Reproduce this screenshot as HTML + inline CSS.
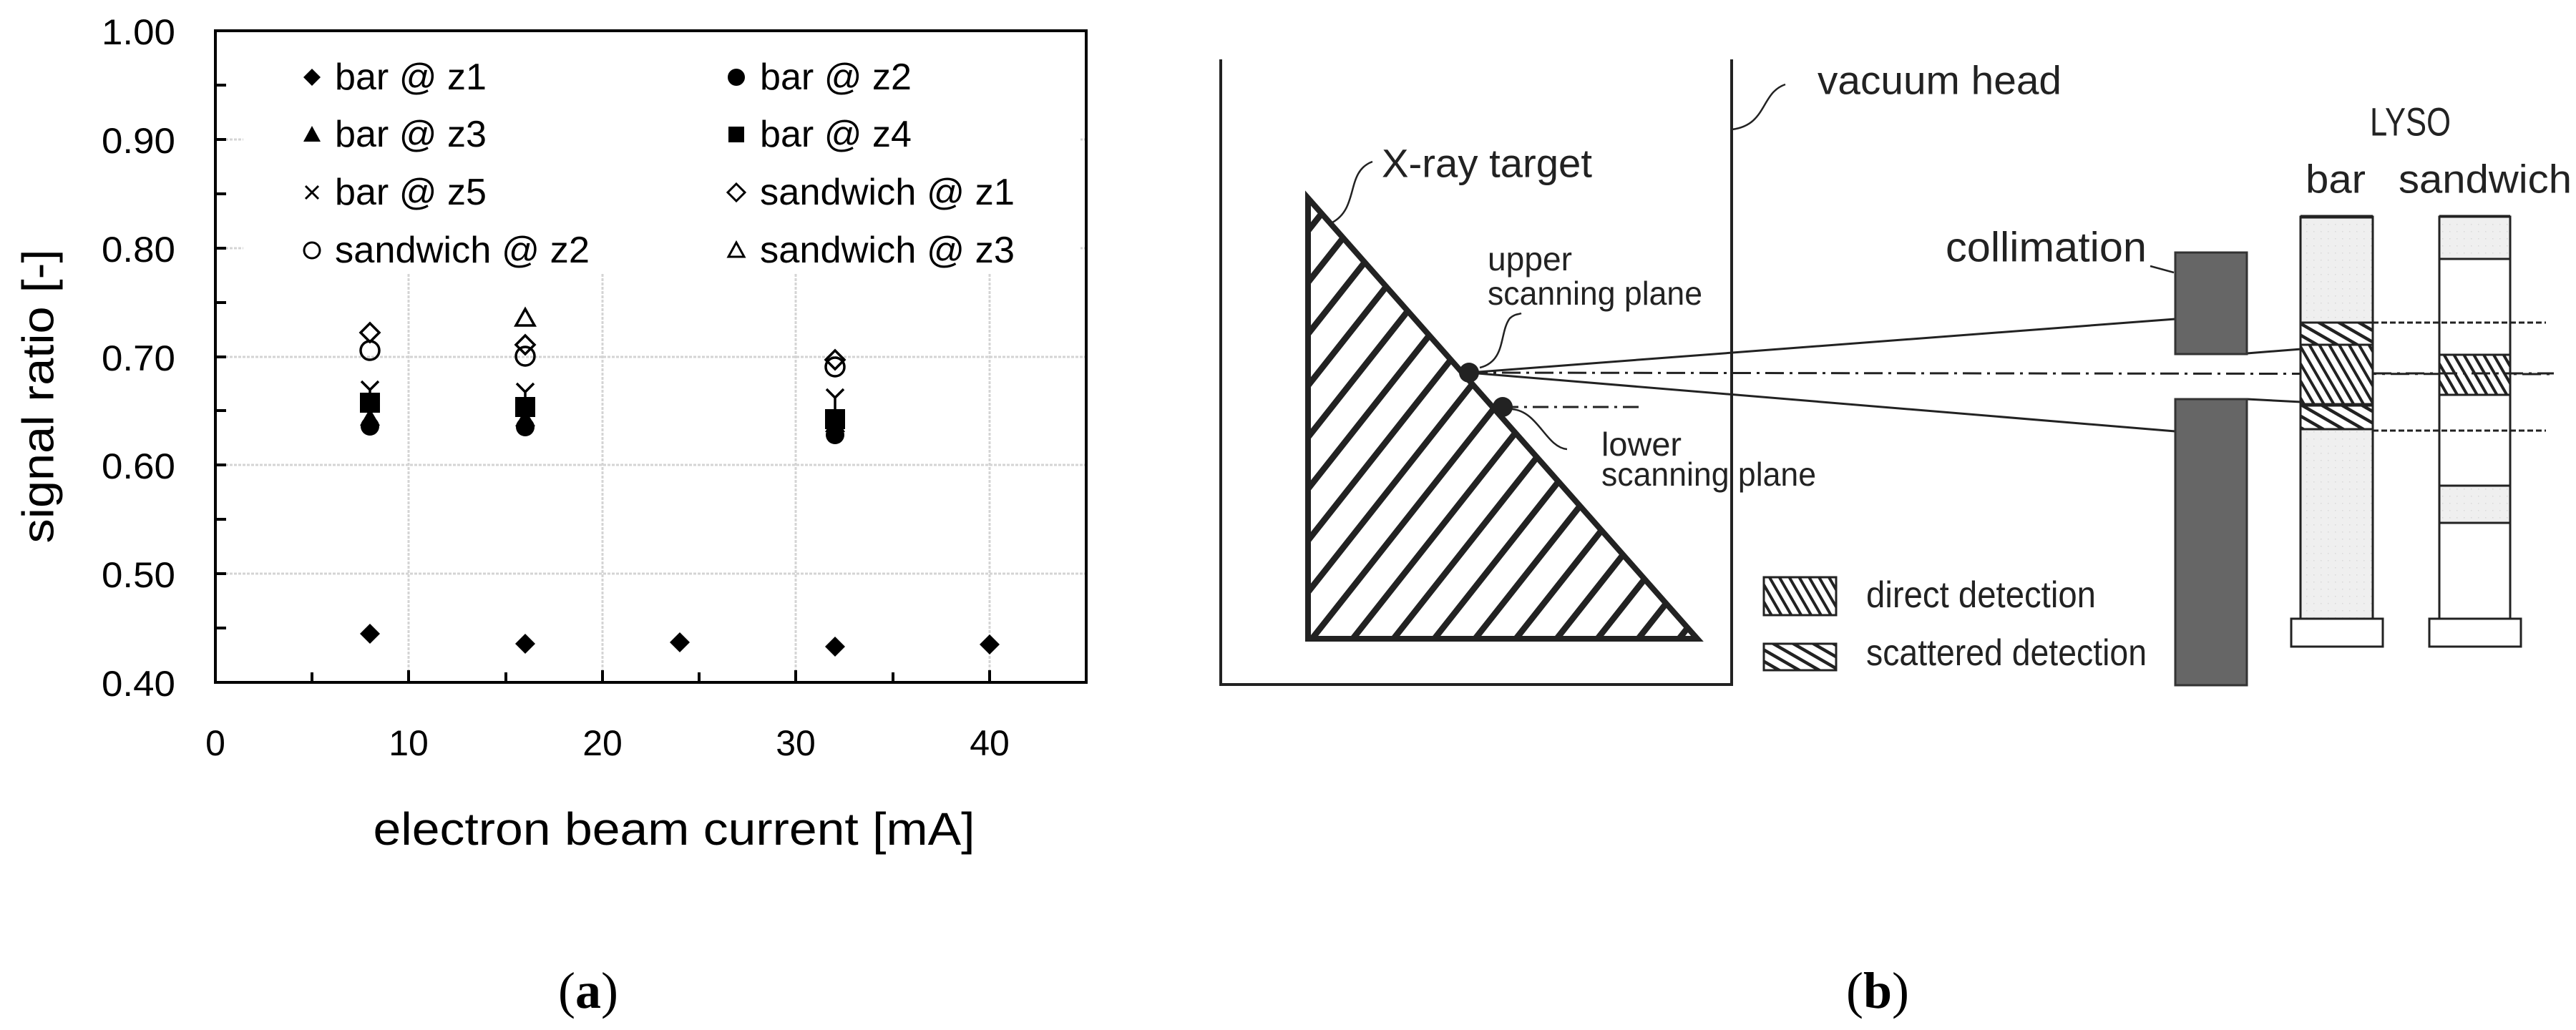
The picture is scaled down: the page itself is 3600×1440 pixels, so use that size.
<!DOCTYPE html>
<html><head><meta charset="utf-8"><style>html,body{margin:0;padding:0;background:#fff}svg{display:block}</style></head>
<body>
<svg width="3600" height="1440" viewBox="0 0 3600 1440" xmlns="http://www.w3.org/2000/svg" font-family="'Liberation Sans', sans-serif">
<defs>
<pattern id="tri" patternUnits="userSpaceOnUse" width="57" height="200" patternTransform="translate(1828,893) skewX(-38.3)">
<rect x="0" y="0" width="11" height="200" fill="#222"/>
</pattern>
<pattern id="scat" patternUnits="userSpaceOnUse" width="14" height="14" patternTransform="rotate(30)">
<rect width="14" height="14" fill="#fff"/><rect x="0" y="0" width="14" height="4.5" fill="#222"/>
</pattern>
<pattern id="dir" patternUnits="userSpaceOnUse" width="12" height="12" patternTransform="rotate(60)">
<rect width="12" height="12" fill="#fff"/><rect x="0" y="0" width="12" height="4" fill="#222"/>
</pattern>
<pattern id="dots" patternUnits="userSpaceOnUse" width="10" height="10">
<rect width="10" height="10" fill="#efefef"/><rect x="3" y="3" width="1.5" height="1.5" fill="#d8d8d8"/>
</pattern>
</defs>

<!-- ============ Chart (a) ============ -->
<g stroke="#d4d4d4" stroke-width="3" stroke-dasharray="4 2">
<line x1="571" y1="383" x2="571" y2="952"/>
<line x1="842" y1="383" x2="842" y2="952"/>
<line x1="1112" y1="383" x2="1112" y2="952"/>
<line x1="1383" y1="383" x2="1383" y2="952"/>
<line x1="303" y1="195" x2="1517" y2="195"/>
<line x1="303" y1="347" x2="1517" y2="347"/>
<line x1="303" y1="499" x2="1517" y2="499"/>
<line x1="303" y1="650" x2="1517" y2="650"/>
<line x1="303" y1="802" x2="1517" y2="802"/>
</g>
<rect x="340" y="48" width="1170" height="334" fill="#fff"/>
<rect x="301" y="43" width="1217" height="911" fill="none" stroke="#000" stroke-width="4"/>
<g stroke="#000" stroke-width="4">
<line x1="301" y1="119" x2="316" y2="119"/><line x1="301" y1="195" x2="316" y2="195"/>
<line x1="301" y1="271" x2="316" y2="271"/><line x1="301" y1="347" x2="316" y2="347"/>
<line x1="301" y1="423" x2="316" y2="423"/><line x1="301" y1="499" x2="316" y2="499"/>
<line x1="301" y1="574" x2="316" y2="574"/><line x1="301" y1="650" x2="316" y2="650"/>
<line x1="301" y1="726" x2="316" y2="726"/><line x1="301" y1="802" x2="316" y2="802"/>
<line x1="301" y1="878" x2="316" y2="878"/>
<line x1="436" y1="954" x2="436" y2="940"/><line x1="571" y1="954" x2="571" y2="937"/>
<line x1="707" y1="954" x2="707" y2="940"/><line x1="842" y1="954" x2="842" y2="937"/>
<line x1="977" y1="954" x2="977" y2="940"/><line x1="1112" y1="954" x2="1112" y2="937"/>
<line x1="1248" y1="954" x2="1248" y2="940"/><line x1="1383" y1="954" x2="1383" y2="937"/>
</g>
<g font-size="50" text-anchor="end" fill="#000" dominant-baseline="central">
<text x="245" y="45" textLength="103" lengthAdjust="spacingAndGlyphs">1.00</text>
<text x="245" y="197" textLength="103" lengthAdjust="spacingAndGlyphs">0.90</text>
<text x="245" y="349" textLength="103" lengthAdjust="spacingAndGlyphs">0.80</text>
<text x="245" y="501" textLength="103" lengthAdjust="spacingAndGlyphs">0.70</text>
<text x="245" y="652" textLength="103" lengthAdjust="spacingAndGlyphs">0.60</text>
<text x="245" y="804" textLength="103" lengthAdjust="spacingAndGlyphs">0.50</text>
<text x="245" y="956" textLength="103" lengthAdjust="spacingAndGlyphs">0.40</text>
</g>
<g font-size="50" text-anchor="middle" fill="#000" dominant-baseline="central">
<text x="301" y="1039">0</text><text x="571" y="1039">10</text><text x="842" y="1039">20</text>
<text x="1112" y="1039">30</text><text x="1383" y="1039">40</text>
</g>
<text x="942" y="1159" font-size="64" text-anchor="middle" dominant-baseline="central" textLength="841" lengthAdjust="spacingAndGlyphs">electron beam current [mA]</text>
<text transform="translate(54,554) rotate(-90)" font-size="62" text-anchor="middle" dominant-baseline="central" textLength="411" lengthAdjust="spacingAndGlyphs">signal ratio [-]</text>

<!-- legend -->
<g font-size="52" dominant-baseline="central">
<text x="468" y="108" textLength="212" lengthAdjust="spacingAndGlyphs">bar @ z1</text>
<text x="468" y="188" textLength="212" lengthAdjust="spacingAndGlyphs">bar @ z3</text>
<text x="468" y="269" textLength="212" lengthAdjust="spacingAndGlyphs">bar @ z5</text>
<text x="468" y="350" textLength="356" lengthAdjust="spacingAndGlyphs">sandwich @ z2</text>
<text x="1062" y="108" textLength="212" lengthAdjust="spacingAndGlyphs">bar @ z2</text>
<text x="1062" y="188" textLength="212" lengthAdjust="spacingAndGlyphs">bar @ z4</text>
<text x="1062" y="269" textLength="356" lengthAdjust="spacingAndGlyphs">sandwich @ z1</text>
<text x="1062" y="350" textLength="356" lengthAdjust="spacingAndGlyphs">sandwich @ z3</text>
</g>
<g fill="#000">
<path d="M436 96 L448 108 L436 120 L424 108Z"/>
<path d="M436 176 L448 198 L424 198Z"/>
<circle cx="1029" cy="108" r="12"/>
<rect x="1018" y="177" width="22" height="22"/>
</g>
<g fill="none" stroke="#000" stroke-width="3">
<path d="M427 260 L445 278 M445 260 L427 278"/>
<circle cx="436" cy="350" r="11"/>
<path d="M1029 257 L1041 269 L1029 281 L1017 269Z"/>
<path d="M1029 339 L1040 359 L1018 359Z"/>
</g>

<!-- data -->
<g fill="#000">
<circle cx="517" cy="596" r="13"/><circle cx="734" cy="597" r="13"/><circle cx="1167" cy="608" r="13"/>
<path d="M517 571 L531 595 L503 595Z"/><path d="M734 572 L748 596 L720 596Z"/><path d="M1167 580 L1181 604 L1153 604Z"/>
<rect x="503" y="549" width="28" height="28"/><rect x="720" y="555" width="28" height="28"/><rect x="1153" y="572" width="28" height="28"/>
<path d="M517 872 L531 886 L517 900 L503 886Z"/>
<path d="M734 886 L748 900 L734 914 L720 900Z"/>
<path d="M950 884 L964 898 L950 912 L936 898Z"/>
<path d="M1167 890 L1181 904 L1167 918 L1153 904Z"/>
<path d="M1383 887 L1397 901 L1383 915 L1369 901Z"/>
</g>
<g fill="none" stroke="#000" stroke-width="3.5">
<path d="M505 533 L517 545 L529 533 M517 545 L517 550"/>
<path d="M722 536 L734 548 L746 536 M734 548 L734 555"/>
<path d="M1155 544 L1167 556 L1179 544 M1167 556 L1167 572"/>
<path d="M517 452 L530 465 L517 478 L504 465Z"/>
<path d="M734 469 L747 482 L734 495 L721 482Z"/>
<path d="M1167 490 L1180 503 L1167 516 L1154 503Z"/>
<circle cx="517" cy="490" r="13"/><circle cx="734" cy="498" r="13"/><circle cx="1167" cy="513" r="13"/>
<path d="M734 432 L747 455 L721 455Z"/>
</g>
<text x="822" y="1385" font-family="'Liberation Serif', serif" font-size="72" text-anchor="middle" dominant-baseline="central">(<tspan font-weight="bold">a</tspan>)</text>

<!-- ============ Diagram (b) ============ -->
<path d="M1706 83 L1706 957 L2420 957 L2420 83" fill="none" stroke="#222" stroke-width="4"/>
<path d="M2420 181 C2470 175 2460 130 2495 118" fill="none" stroke="#222" stroke-width="2.5"/>
<text x="2540" y="112" font-size="56" dominant-baseline="central" textLength="341" lengthAdjust="spacingAndGlyphs" fill="#222">vacuum head</text>
<path d="M1862 311 C1900 290 1880 240 1918 226" fill="none" stroke="#222" stroke-width="2.5"/>
<text x="1931" y="228" font-size="56" dominant-baseline="central" textLength="294" lengthAdjust="spacingAndGlyphs" fill="#222">X-ray target</text>

<polygon points="1828,277 1828,893 2372,893" fill="url(#tri)" stroke="#222" stroke-width="8" stroke-linejoin="miter"/>

<line x1="2053" y1="521" x2="3569" y2="523" stroke="#222" stroke-width="3" stroke-dasharray="26 8 4 8"/>
<line x1="2100" y1="569" x2="2294" y2="569" stroke="#222" stroke-width="3" stroke-dasharray="22 8 4 8"/>
<line x1="2053" y1="521" x2="3040" y2="446" stroke="#222" stroke-width="3"/>
<line x1="2053" y1="521" x2="3040" y2="603" stroke="#222" stroke-width="3"/>
<line x1="3140" y1="494" x2="3216" y2="488" stroke="#222" stroke-width="3"/>
<line x1="3140" y1="558" x2="3216" y2="562" stroke="#222" stroke-width="3"/>
<circle cx="2053" cy="521" r="14" fill="#222"/>
<circle cx="2100" cy="569" r="14" fill="#222"/>
<path d="M2068 514 C2105 505 2095 465 2110 445 C2118 438 2122 440 2126 438" fill="none" stroke="#222" stroke-width="2.5"/>
<path d="M2113 572 C2150 575 2160 625 2190 628" fill="none" stroke="#222" stroke-width="2.5"/>
<g font-size="46" fill="#222">
<text x="2079" y="378" textLength="118" lengthAdjust="spacingAndGlyphs">upper</text>
<text x="2079" y="426" textLength="300" lengthAdjust="spacingAndGlyphs">scanning plane</text>
<text x="2238" y="637" textLength="112" lengthAdjust="spacingAndGlyphs">lower</text>
<text x="2238" y="679" textLength="300" lengthAdjust="spacingAndGlyphs">scanning plane</text>
</g>

<rect x="3040" y="353" width="100" height="142" fill="#666" stroke="#333" stroke-width="3"/>
<rect x="3040" y="558" width="100" height="400" fill="#666" stroke="#333" stroke-width="3"/>
<text x="2719" y="346" font-size="58" dominant-baseline="central" textLength="281" lengthAdjust="spacingAndGlyphs" fill="#222">collimation</text>
<line x1="3005" y1="372" x2="3038" y2="381" stroke="#222" stroke-width="2.5"/>

<text x="3312" y="170" font-size="56" dominant-baseline="central" textLength="113" lengthAdjust="spacingAndGlyphs" fill="#222">LYSO</text>
<text x="3222" y="250" font-size="56" dominant-baseline="central" textLength="84" lengthAdjust="spacingAndGlyphs" fill="#222">bar</text>
<text x="3352" y="250" font-size="56" dominant-baseline="central" textLength="242" lengthAdjust="spacingAndGlyphs" fill="#222">sandwich</text>

<rect x="3215" y="303" width="101" height="562" fill="url(#dots)" stroke="#222" stroke-width="3"/>
<line x1="3215" y1="303" x2="3316" y2="303" stroke="#222" stroke-width="5"/>
<rect x="3215" y="451" width="101" height="31" fill="url(#scat)" stroke="#222" stroke-width="3"/>
<rect x="3215" y="482" width="101" height="83" fill="url(#dir)" stroke="#222" stroke-width="3"/>
<rect x="3215" y="567" width="101" height="33" fill="url(#scat)" stroke="#222" stroke-width="3"/>
<rect x="3202" y="865" width="128" height="39" fill="#fff" stroke="#222" stroke-width="3"/>

<rect x="3409" y="303" width="99" height="562" fill="#fff" stroke="#222" stroke-width="3"/>
<line x1="3409" y1="303" x2="3508" y2="303" stroke="#222" stroke-width="5"/>
<rect x="3409" y="303" width="99" height="59" fill="url(#dots)" stroke="#222" stroke-width="3"/>
<rect x="3409" y="496" width="99" height="56" fill="url(#dir)" stroke="#222" stroke-width="3"/>
<rect x="3409" y="679" width="99" height="52" fill="url(#dots)" stroke="#222" stroke-width="3"/>
<rect x="3395" y="865" width="128" height="39" fill="#fff" stroke="#222" stroke-width="3"/>

<line x1="3316" y1="451" x2="3558" y2="451" stroke="#222" stroke-width="3" stroke-dasharray="8 4"/>
<line x1="3316" y1="602" x2="3558" y2="602" stroke="#222" stroke-width="3" stroke-dasharray="8 4"/>
<line x1="3316" y1="522" x2="3569" y2="522" stroke="#222" stroke-width="3" stroke-dasharray="26 8 4 8"/>

<rect x="2465" y="807" width="101" height="53" fill="url(#dir)" stroke="#222" stroke-width="3"/>
<rect x="2465" y="900" width="101" height="37" fill="url(#scat)" stroke="#222" stroke-width="3"/>
<text x="2608" y="849" font-size="52" textLength="321" lengthAdjust="spacingAndGlyphs" fill="#222">direct detection</text>
<text x="2608" y="930" font-size="52" textLength="392" lengthAdjust="spacingAndGlyphs" fill="#222">scattered detection</text>

<text x="2624" y="1385" font-family="'Liberation Serif', serif" font-size="72" text-anchor="middle" dominant-baseline="central">(<tspan font-weight="bold">b</tspan>)</text>
</svg>
</body></html>
